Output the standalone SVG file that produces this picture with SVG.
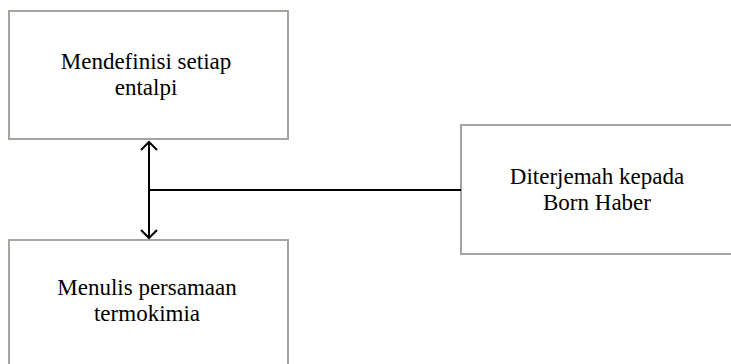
<svg xmlns="http://www.w3.org/2000/svg" width="731" height="364" viewBox="0 0 731 364">
<style>
.box{fill:#fff;stroke:#a5a5a0;stroke-width:2}
.lbl{font-family:"Liberation Serif","Times New Roman",serif;font-size:23px;fill:#000;text-anchor:middle}
.con{stroke:#000;stroke-width:2;fill:none}
</style>
<defs>
<marker id="arr" viewBox="0 0 20 20" refX="18" refY="10" markerWidth="20" markerHeight="20" markerUnits="userSpaceOnUse" orient="auto-start-reverse">
<path d="M10,2 L18,10 L10,18" fill="none" stroke="#000" stroke-width="2"/>
</marker>
</defs>
<rect width="731" height="364" fill="#fff"/>
<g id="node-mendefinisi">
<rect class="box" x="9" y="11" width="279" height="128"/>
<text class="lbl" x="146" y="69">Mendefinisi setiap</text>
<text class="lbl" x="146" y="95">entalpi</text>
</g>
<g id="node-menulis">
<rect class="box" x="9" y="240" width="279" height="140"/>
<text class="lbl" x="147" y="295">Menulis persamaan</text>
<text class="lbl" x="147" y="321">termokimia</text>
</g>
<g id="node-diterjemah">
<rect class="box" x="461" y="125" width="290" height="129"/>
<text class="lbl" x="597" y="184">Diterjemah kepada</text>
<text class="lbl" x="597" y="210">Born Haber</text>
</g>
<g id="connectors">
<line class="con" x1="149" y1="142" x2="149" y2="238" marker-start="url(#arr)" marker-end="url(#arr)"/>
<line class="con" x1="149" y1="190" x2="461" y2="190"/>
</g>
</svg>
